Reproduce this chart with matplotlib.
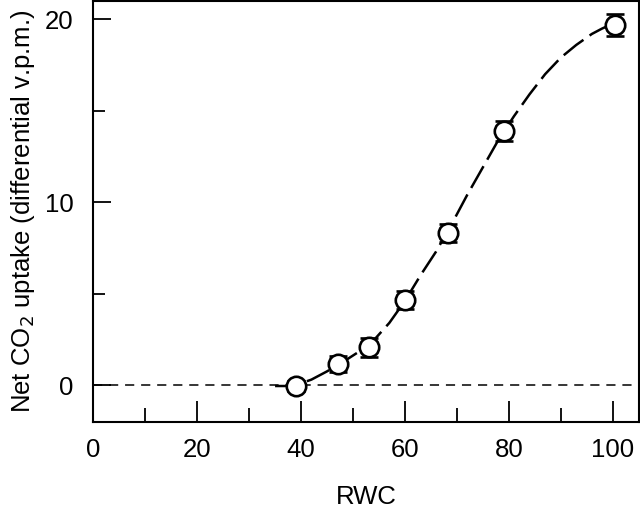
import matplotlib
matplotlib.use('Agg')
import matplotlib.pyplot as plt
from matplotlib.ticker import MultipleLocator

# measured points (RWC, net CO2 uptake) with error
rwc = [39.1, 47.1, 53.0, 60.1, 68.3, 79.0, 100.4]
uptake = [-0.05, 1.15, 2.07, 4.66, 8.31, 13.88, 19.69]
err = [0.3, 0.45, 0.52, 0.5, 0.5, 0.54, 0.58]

# fitted curve
curve_x = [35, 37, 39, 42, 45, 48, 51, 54, 57, 60, 63, 66, 69, 72, 75,
           78, 81, 84, 87, 90, 93, 96, 98, 100]
curve_y = [-0.05, -0.05, 0.0, 0.3, 0.75, 1.25, 1.8, 2.45, 3.4, 4.6, 6.0,
           7.3, 8.8, 10.4, 11.9, 13.4, 14.7, 15.9, 17.0, 17.9, 18.6, 19.2,
           19.5, 19.75]

plt.rcParams['font.family'] = ['Liberation Sans', 'DejaVu Sans']

fig = plt.figure(figsize=(6.4, 5.16), dpi=100)
ax = fig.add_axes([0.1458, 0.1828, 0.852, 0.8152])

ax.axhline(0, color='black', lw=1.1, dashes=(6, 4.5), zorder=1)
ax.plot(curve_x, curve_y, color='black', lw=1.8, dashes=(10, 3), zorder=2)
ax.errorbar(rwc, uptake, yerr=err, fmt='o', ms=14, mfc='white', mec='black',
            mew=1.9, ecolor='black', elinewidth=1.8, capsize=6.5,
            capthick=2.2, zorder=3)

ax.set_xlim(0, 105)
ax.set_ylim(-2, 21)
ax.xaxis.set_major_locator(MultipleLocator(20))
ax.xaxis.set_minor_locator(MultipleLocator(10))
ax.yaxis.set_major_locator(MultipleLocator(10))
ax.yaxis.set_minor_locator(MultipleLocator(5))

ax.tick_params(axis='x', which='major', direction='in', length=15, width=1.3,
               pad=12, labelsize=18.5)
ax.tick_params(axis='x', which='minor', direction='in', length=10, width=1.3)
ax.tick_params(axis='y', which='major', direction='in', length=13, width=1.3,
               pad=14, labelsize=18.5)
ax.tick_params(axis='y', which='minor', direction='in', length=8.6, width=1.3)
for s in ax.spines.values():
    s.set_linewidth(1.5)

ax.set_xlabel('RWC', fontsize=18.5, labelpad=16)
ax.set_ylabel('Net CO$_2$ uptake (differential v.p.m.)', fontsize=18.5, labelpad=6)

fig.savefig('out.png', dpi=100)
